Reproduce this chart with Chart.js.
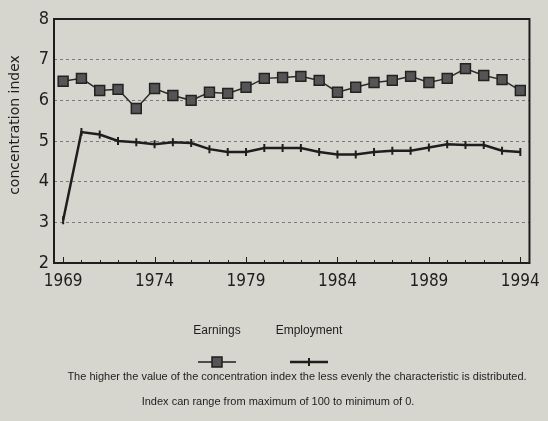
<!DOCTYPE html>
<html>
<head>
<meta charset="utf-8">
<script src="https://cdn.jsdelivr.net/npm/chart.js"></script>
<style>
  body { margin: 0; background: #d6d6cf; }
  canvas { display: block; }
</style>
<script>
  // values
  var years = [1969, 1970, 1971, 1972, 1973, 1974, 1975, 1976, 1977, 1978, 1979, 1980, 1981,
               1982, 1983, 1984, 1985, 1986, 1987, 1988, 1989, 1990, 1991, 1992, 1993, 1994];
  var earnings = [6.47, 6.54, 6.24, 6.27, 5.80, 6.29, 6.12, 6.00, 6.20, 6.17, 6.32, 6.54, 6.56,
                  6.59, 6.49, 6.20, 6.32, 6.44, 6.49, 6.59, 6.44, 6.54, 6.78, 6.61, 6.51, 6.24];
  var employment = [3.05, 5.22, 5.16, 5.00, 4.97, 4.92, 4.97, 4.95, 4.80, 4.73, 4.73, 4.83, 4.83,
                    4.83, 4.73, 4.67, 4.67, 4.73, 4.76, 4.76, 4.84, 4.92, 4.90, 4.90, 4.76, 4.73];
  var yearLabels = [1969, 1974, 1979, 1984, 1989, 1994];
  var yTicks = [2, 3, 4, 5, 6, 7, 8];
  var seriesNames = ["Earnings", "Employment"];
  var yTitle = "concentration index";
  var notes = [
    "The higher the value of the concentration index the less evenly the characteristic is distributed.",
    "Index can range from maximum of 100 to minimum of 0."
  ];
</script>
</head>
<body>
<canvas id="chart" width="548" height="421"></canvas>
<script>
  var ink = "#1e1e1e";
  var tickFont = "'DejaVu Sans Condensed', 'Liberation Sans', sans-serif";

  // box, inward ticks, axis title, legend and notes
  var extras = {
    id: "extras",
    afterDraw: function (chart) {
      var ctx = chart.ctx, a = chart.chartArea, x = chart.scales.x;
      ctx.save();
      ctx.strokeStyle = ink;
      ctx.lineWidth = 2;
      ctx.strokeRect(a.left, a.top, a.right - a.left, a.bottom - a.top);

      ctx.lineWidth = 1;
      years.forEach(function (yr) {
        var px = Math.round(x.getPixelForValue(yr)) + 0.5;
        var len = yearLabels.indexOf(yr) >= 0 ? 6 : 3;
        ctx.beginPath();
        ctx.moveTo(px, a.bottom);
        ctx.lineTo(px, a.bottom - len);
        ctx.stroke();
      });

      // rotated y title
      ctx.fillStyle = ink;
      ctx.font = "14px 'DejaVu Sans'";
      ctx.textAlign = "center";
      ctx.textBaseline = "middle";
      ctx.translate(15, 125);
      ctx.rotate(-Math.PI / 2);
      ctx.fillText(yTitle, 0, 0);
      ctx.setTransform(1, 0, 0, 1, 0, 0);

      // legend: name on top, sample below
      var legendX = [217, 309];
      ctx.font = "12px 'Liberation Sans'";
      seriesNames.forEach(function (n, i) {
        ctx.fillText(n, legendX[i], 331);
        ctx.lineWidth = i === 0 ? 1.5 : 2.5;
        ctx.beginPath();
        ctx.moveTo(legendX[i] - 19, 362);
        ctx.lineTo(legendX[i] + 19, 362);
        ctx.stroke();
      });
      ctx.fillStyle = "#555";
      ctx.lineWidth = 1.5;
      ctx.fillRect(legendX[0] - 5, 357, 10, 10);
      ctx.strokeRect(legendX[0] - 5, 357, 10, 10);
      ctx.lineWidth = 2;
      ctx.beginPath();
      ctx.moveTo(legendX[1], 358);
      ctx.lineTo(legendX[1], 366);
      ctx.stroke();

      // footnotes
      ctx.fillStyle = ink;
      ctx.font = "11px 'Liberation Sans'";
      ctx.fillText(notes[0], 297, 377, 500);
      ctx.fillText(notes[1], 278, 402, 285);
      ctx.restore();
    }
  };

  new Chart(document.getElementById("chart"), {
    type: "line",
    data: {
      datasets: [
        {
          label: seriesNames[0],
          data: years.map(function (y, i) { return { x: y, y: earnings[i] }; }),
          borderColor: "#2a2a2a",
          borderWidth: 1.5,
          pointStyle: "rect",
          pointRadius: 7,
          pointBackgroundColor: "#555",
          pointBorderColor: "#222",
          pointBorderWidth: 1.5,
          tension: 0
        },
        {
          label: seriesNames[1],
          data: years.map(function (y, i) { return { x: y, y: employment[i] }; }),
          borderColor: ink,
          borderWidth: 2.5,
          pointStyle: "line",
          pointRotation: 90,
          pointRadius: 4,
          pointBorderColor: ink,
          pointBorderWidth: 2,
          tension: 0
        }
      ]
    },
    options: {
      responsive: false,
      animation: false,
      layout: { padding: { left: 0, top: 19, right: 11, bottom: 128 } },
      plugins: { legend: { display: false }, tooltip: { enabled: false } },
      scales: {
        x: {
          type: "linear",
          min: 1968.5,
          max: 1994.5,
          afterBuildTicks: function (s) { s.ticks = yearLabels.map(function (v) { return { value: v }; }); },
          afterFit: function (s) { s.height = 30; },
          grid: { display: false, drawTicks: false },
          border: { display: false },
          ticks: {
            color: ink,
            padding: 8,
            maxRotation: 0,
            autoSkip: false,
            font: { family: tickFont, size: 17 },
            callback: function (v) { return String(v); }
          }
        },
        y: {
          min: 2,
          max: 8,
          afterBuildTicks: function (s) { s.ticks = yTicks.map(function (v) { return { value: v }; }); },
          afterFit: function (s) { s.width = 54; },
          grid: { color: "#7a7a7a", lineWidth: 1, drawTicks: false, borderDash: [3, 3] },
          border: { display: false, dash: [3, 3] },
          ticks: {
            color: ink,
            padding: 5,
            font: { family: tickFont, size: 18 }
          }
        }
      }
    },
    plugins: [extras]
  });
</script>
</body>
</html>
